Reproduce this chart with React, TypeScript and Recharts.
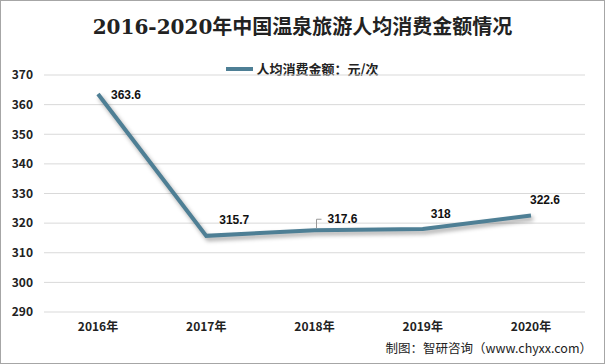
import React from "react";
import { CartesianGrid, LabelList, Line, LineChart, XAxis, YAxis } from "recharts";

const years = ["2016年", "2017年", "2018年", "2019年", "2020年"];
const spending = [363.6, 315.7, 317.6, 318, 322.6];
const yTicks = [290, 300, 310, 320, 330, 340, 350, 360, 370];

// label placement relative to each point (dx, dy), leader line on the 2018 one
const labelShift = [
  { dx: 13, dy: 2, leader: false },
  { dx: 13, dy: -15, leader: false },
  { dx: 13, dy: -10, leader: true },
  { dx: 8, dy: -14, leader: false },
  { dx: -1, dy: -15, leader: false },
];

const data = years.map((year, i) => ({ year, value: spending[i] }));

const tickFont = { fontFamily: "'Noto Sans CJK SC', 'Noto Sans', sans-serif", fontSize: 12, fontWeight: 700, fill: "#222" };

function PointLabel(props: any) {
  const { x, y, value, index } = props;
  const s = labelShift[index];
  return (
    <g>
      {s.leader && (
        <polyline
          points={`${x + 2},${y - 2} ${x + 2},${y + s.dy - 1} ${x + 7},${y + s.dy - 1}`}
          fill="none"
          stroke="#999"
          strokeWidth={1}
        />
      )}
      <text
        x={x + s.dx}
        y={y + s.dy}
        textAnchor="start"
        dominantBaseline="middle"
        fontFamily="'Liberation Sans', Arial, sans-serif"
        fontSize={12}
        fontWeight={700}
        fill="#111"
      >
        {value}
      </text>
    </g>
  );
}

export default function App() {
  return (
    <div style={{ position: "absolute", left: 0, top: 0, width: 605, height: 364, background: "#fff", boxSizing: "border-box", border: "1px solid #a6a6a6" }}>
      <div style={{ position: "absolute", top: 10, left: 0, width: 603, textAlign: "center", fontFamily: "'DejaVu Serif', 'Liberation Serif', 'Noto Sans CJK SC', serif", fontSize: 20, fontWeight: 700, color: "#222" }}>
        2016-2020年中国温泉旅游人均消费金额情况
      </div>
      <div style={{ position: "absolute", top: 58, left: 0, width: 603, display: "flex", alignItems: "center", justifyContent: "center", fontFamily: "'Noto Sans CJK SC', sans-serif", fontSize: 13, fontWeight: 700, color: "#222" }}>
        <span style={{ display: "inline-block", width: 27, height: 4, background: "#4e7f95", marginRight: 3 }} />
        人均消费金额：元/次
      </div>
      <LineChart width={603} height={362} data={data} margin={{ top: 74, right: 19, bottom: 21, left: 0 }}>
        <CartesianGrid vertical={false} stroke="#d9d9d9" />
        <XAxis
          dataKey="year"
          axisLine={false}
          tickLine={false}
          padding={{ left: 54, right: 54 }}
          tick={tickFont}
          tickMargin={4}
          height={30}
        />
        <YAxis
          domain={[290, 370]}
          ticks={yTicks}
          axisLine={false}
          tickLine={false}
          width={43}
          tick={tickFont}
          tickMargin={5}
        />
        <Line
          dataKey="value"
          stroke="#4e7f95"
          strokeWidth={4}
          dot={false}
          isAnimationActive={false}
          style={{ filter: "drop-shadow(2px 3px 2px rgba(0,0,0,0.35))" }}
        >
          <LabelList dataKey="value" content={<PointLabel />} />
        </Line>
      </LineChart>
      <div style={{ position: "absolute", right: 12, bottom: 6, fontFamily: "'Noto Sans CJK SC', sans-serif", fontSize: 12.5, color: "#222" }}>
        制图：智研咨询（www.chyxx.com）
      </div>
    </div>
  );
}
